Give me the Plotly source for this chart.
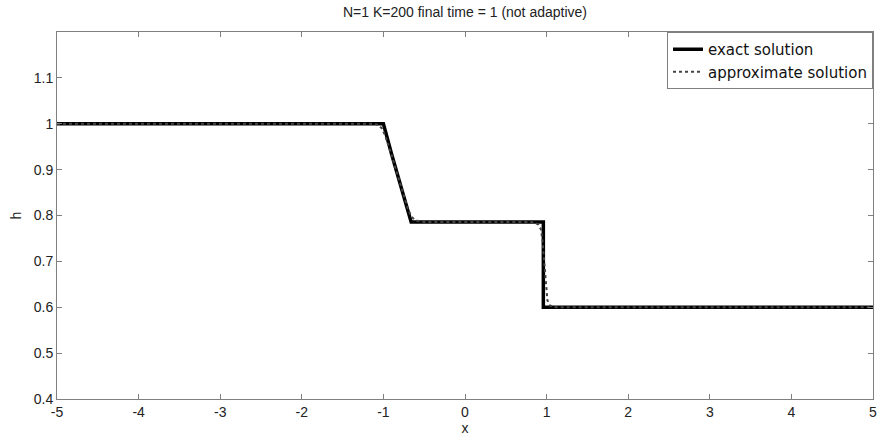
import plotly.graph_objects as go

# Exact solution: left state, rarefaction fan, middle state, shock, right state
x_exact = [-5.0, -1.0, -0.9, -0.8, -0.7, -0.66, 0.96, 0.96, 5.0]
h_exact = [1.0, 1.0, 0.934, 0.871, 0.81, 0.786, 0.786, 0.6, 0.6]

# Approximate (DG, N=1 K=200) solution, smeared near the corners
x_approx = [-5.0, -1.12, -1.06, -1.02, -0.98, -0.94, -0.9, -0.85, -0.8, -0.75,
            -0.7, -0.66, -0.62, -0.58, -0.54, -0.5, 0.8, 0.86, 0.9, 0.93,
            0.95, 0.97, 0.99, 1.01, 1.04, 1.08, 1.13, 5.0]
h_approx = [1.0, 1.0, 0.997, 0.99, 0.975, 0.955, 0.932, 0.902, 0.872, 0.843,
            0.815, 0.799, 0.791, 0.788, 0.787, 0.786, 0.786, 0.784, 0.78, 0.77,
            0.745, 0.70, 0.65, 0.615, 0.604, 0.601, 0.6, 0.6]

x_ticks = [-5, -4, -3, -2, -1, 0, 1, 2, 3, 4, 5]
x_labels = ["-5", "-4", "-3", "-2", "-1", "0", "1", "2", "3", "4", "5"]
y_ticks = [0.4, 0.5, 0.6, 0.7, 0.8, 0.9, 1.0, 1.1]
y_labels = ["0.4", "0.5", "0.6", "0.7", "0.8", "0.9", "1", "1.1"]

font = "Liberation Sans, Arial, sans-serif"

fig = go.Figure()
fig.add_trace(go.Scatter(
    x=x_exact, y=h_exact, mode="lines", name="exact solution",
    line=dict(color="black", width=3.5),
))
fig.add_trace(go.Scatter(
    x=x_approx, y=h_approx, mode="lines", name="approximate solution",
    line=dict(color="#444444", width=2, dash="dot"),
))

axis_common = dict(
    showline=True, linecolor="#808080", linewidth=1, mirror="ticks",
    ticks="inside", ticklen=5, tickcolor="#808080", showgrid=False,
    zeroline=False, tickfont=dict(family=font, size=14, color="#222222"),
)

fig.update_layout(
    width=884, height=439,
    margin=dict(l=57, r=7, t=32, b=36),
    paper_bgcolor="white", plot_bgcolor="white",
    title=dict(text="N=1 K=200 final time = 1 (not adaptive)",
               xref="paper", x=0.5, xanchor="center", y=1 - 12 / 439,
               yanchor="middle",
               font=dict(family=font, size=14, color="#222222")),
    xaxis=dict(range=[-5, 5], tickvals=x_ticks, ticktext=x_labels,
               title=dict(text="x", standoff=2,
                          font=dict(family=font, size=14, color="#222222")),
               **axis_common),
    yaxis=dict(range=[0.4, 1.2], tickvals=y_ticks, ticktext=y_labels,
               title=dict(text="h", standoff=8,
                          font=dict(family=font, size=14, color="#222222")),
               **axis_common),
    legend=dict(x=1, y=1, xanchor="right", yanchor="top",
                bordercolor="#808080", borderwidth=1, bgcolor="white",
                font=dict(family="DejaVu Sans, sans-serif", size=15,
                          color="#111111"),
                tracegroupgap=0, itemwidth=30),
    showlegend=True,
)

fig.write_html("out.html")
